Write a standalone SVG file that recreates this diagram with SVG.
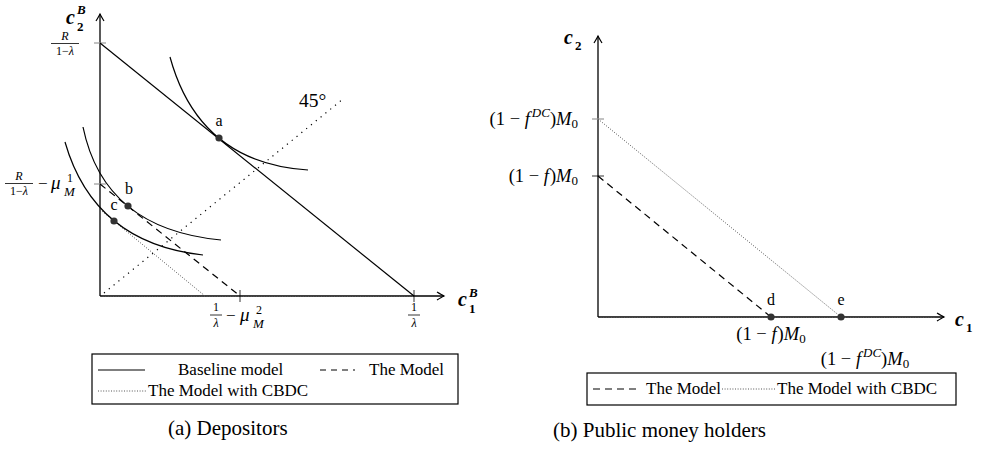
<svg xmlns="http://www.w3.org/2000/svg" width="992" height="449" viewBox="0 0 992 449">
<defs>
<marker id="arr" viewBox="-8 -5 10 10" refX="0" refY="0" markerWidth="10" markerHeight="10" markerUnits="userSpaceOnUse" orient="auto">
<path d="M-7,-4 Q-2,-1 0,0 Q-2,1 -7,4" fill="none" stroke="#000" stroke-width="1.2"/>
</marker>
</defs>
<style>
.t{font-family:"Liberation Serif","DejaVu Serif",serif;fill:#000}
.i{font-style:italic}
.b{font-weight:bold;font-style:italic}
.bd{font-weight:bold}
.axis{stroke:#000;stroke-width:1.3;fill:none}
.solid{stroke:#000;stroke-width:1.2;fill:none}
.dash{stroke:#000;stroke-width:1.2;fill:none;stroke-dasharray:7 5}
.dot{stroke:#555;stroke-width:1;fill:none;stroke-dasharray:1 1.6}
.dot45{stroke:#000;stroke-width:1.2;fill:none;stroke-dasharray:1.2 5}
.tick{stroke:#000;stroke-width:0.8}
.gtick{stroke:#999;stroke-width:1.2}
.pt{fill:#333}
.box{fill:#fff;stroke:#000;stroke-width:1.2}
.lg{font-size:17px}
.cap{font-size:21px}
.mth{font-size:18.5px}
.sb{font-size:13px}
</style>
<rect width="992" height="449" fill="#fff"/>

<!-- Left panel -->
<g id="left-axes">
<line class="axis" x1="100" y1="296" x2="100" y2="14" marker-end="url(#arr)"/>
<line class="axis" x1="100" y1="296" x2="444" y2="296" marker-end="url(#arr)"/>
<line class="dot" x1="100" y1="296.5" x2="414" y2="296.5"/>
<line class="gtick" x1="94" y1="43" x2="106" y2="43"/>
<line class="gtick" x1="94" y1="184" x2="106" y2="184"/>
<line class="tick" x1="240" y1="290" x2="240" y2="302"/>
<line class="tick" x1="414" y1="290" x2="414" y2="302"/>
<text class="t b" x="66" y="24" font-size="20">c</text>
<text class="t b" x="77" y="14" font-size="13">B</text>
<text class="t bd" x="77" y="31" font-size="13">2</text>
<text class="t b" x="458" y="306" font-size="20">c</text>
<text class="t b" x="469" y="297" font-size="13">B</text>
<text class="t bd" x="469" y="313" font-size="13">1</text>
<text class="t i" x="65" y="40" font-size="12" text-anchor="middle">R</text>
<line class="tick" x1="51" y1="43.5" x2="79" y2="43.5"/>
<text class="t" x="65" y="55" font-size="12" text-anchor="middle">1−<tspan class="i">λ</tspan></text>
<text class="t i" x="19" y="180" font-size="12" text-anchor="middle">R</text>
<line class="tick" x1="5" y1="183.5" x2="33" y2="183.5"/>
<text class="t" x="19" y="195" font-size="12" text-anchor="middle">1−<tspan class="i">λ</tspan></text>
<text class="t" x="38" y="189" font-size="17">−</text>
<text class="t i" x="51" y="189" font-size="19">μ</text>
<text class="t" x="67" y="182" font-size="12">1</text>
<text class="t i" x="64" y="196" font-size="13">M</text>
<text class="t" x="216" y="311" font-size="12" text-anchor="middle">1</text>
<line class="tick" x1="210" y1="315" x2="222" y2="315"/>
<text class="t i" x="216" y="327" font-size="12" text-anchor="middle">λ</text>
<text class="t" x="226" y="321" font-size="17">−</text>
<text class="t i" x="240" y="321" font-size="19">μ</text>
<text class="t" x="256" y="314" font-size="12">2</text>
<text class="t i" x="253" y="328" font-size="13">M</text>
<text class="t" x="414" y="311" font-size="12" text-anchor="middle">1</text>
<line class="tick" x1="408" y1="315" x2="420" y2="315"/>
<text class="t i" x="414" y="327" font-size="12" text-anchor="middle">λ</text>
</g>

<g id="left-connectors">
<line class="solid" x1="100" y1="43" x2="414" y2="296"/>
<line class="dash" x1="100" y1="184" x2="240" y2="296"/>
<line class="dot" x1="100" y1="209.5" x2="205" y2="296"/>
<line class="dot45" x1="104" y1="293" x2="343" y2="99"/>
<path class="solid" d="M170,57 Q199,163 308,170"/>
<path class="solid" d="M83,127 Q104,229 221,240"/>
<path class="solid" d="M65,142 Q94,243 203,255"/>
</g>

<g id="node-a"><circle class="pt" cx="219" cy="138" r="3.6"/><text class="t" x="219" y="126" font-size="16" text-anchor="middle">a</text></g>
<g id="node-b"><circle class="pt" cx="128" cy="206" r="3.6"/><text class="t" x="129" y="194" font-size="16" text-anchor="middle">b</text></g>
<g id="node-c"><circle class="pt" cx="114" cy="221" r="3.6"/><text class="t" x="114" y="210" font-size="16" text-anchor="middle">c</text></g>
<text class="t" x="299" y="107" font-size="19.5">45°</text>

<g id="left-legend">
<rect class="box" x="92" y="354" width="366" height="50"/>
<line class="solid" x1="98" y1="370" x2="145" y2="370"/>
<text class="t lg" x="178" y="375">Baseline model</text>
<line class="dash" x1="320" y1="370" x2="355" y2="370" style="stroke-dasharray:6 5"/>
<text class="t lg" x="369" y="375">The Model</text>
<line class="dot" x1="98" y1="391" x2="147" y2="391"/>
<text class="t lg" x="148" y="396">The Model with CBDC</text>
</g>
<text class="t cap" x="168" y="435">(a) Depositors</text>

<!-- Right panel -->
<g id="right-axes">
<line class="axis" x1="598" y1="317" x2="598" y2="36" marker-end="url(#arr)"/>
<line class="axis" x1="598" y1="317" x2="944" y2="317" marker-end="url(#arr)"/>
<line class="dot" x1="598" y1="317.5" x2="936" y2="317.5"/>
<line class="gtick" x1="592" y1="119" x2="604" y2="119"/>
<line class="tick" x1="592" y1="176" x2="604" y2="176"/>
<text class="t b" x="564" y="44" font-size="20">c</text>
<text class="t bd" x="575" y="50" font-size="13">2</text>
<text class="t b" x="955" y="326" font-size="20">c</text>
<text class="t bd" x="966" y="332" font-size="13">1</text>
<text class="t mth" x="578" y="125" text-anchor="end">(1 − <tspan class="i">f</tspan><tspan class="i sb" dx="2" dy="-8">DC</tspan><tspan dy="8">)</tspan><tspan class="i">M</tspan><tspan class="sb" dy="3">0</tspan></text>
<text class="t mth" x="578" y="182" text-anchor="end">(1 − <tspan class="i">f</tspan><tspan dx="1">)</tspan><tspan class="i">M</tspan><tspan class="sb" dy="3">0</tspan></text>
<text class="t mth" x="771" y="340" text-anchor="middle">(1 − <tspan class="i">f</tspan><tspan dx="1">)</tspan><tspan class="i">M</tspan><tspan class="sb" dy="3">0</tspan></text>
<text class="t mth" x="865" y="365" text-anchor="middle">(1 − <tspan class="i">f</tspan><tspan class="i sb" dx="2" dy="-8">DC</tspan><tspan dy="8">)</tspan><tspan class="i">M</tspan><tspan class="sb" dy="3">0</tspan></text>
</g>

<g id="right-connectors">
<line class="dash" x1="598" y1="176" x2="771" y2="317"/>
<line class="dot" x1="598" y1="119" x2="841" y2="317"/>
</g>

<g id="node-d"><circle class="pt" cx="771" cy="317" r="3.6"/><text class="t" x="771" y="305" font-size="16" text-anchor="middle">d</text></g>
<g id="node-e"><circle class="pt" cx="841" cy="317" r="3.6"/><text class="t" x="841" y="305" font-size="16" text-anchor="middle">e</text></g>

<g id="right-legend">
<rect class="box" x="587" y="373" width="369" height="32"/>
<line class="dash" x1="593" y1="389" x2="640" y2="389" style="stroke-dasharray:7 5"/>
<text class="t lg" x="646" y="394">The Model</text>
<line class="dot" x1="722" y1="389" x2="776" y2="389"/>
<text class="t lg" x="777" y="394">The Model with CBDC</text>
</g>
<text class="t cap" x="553" y="437">(b) Public money holders</text>
</svg>
